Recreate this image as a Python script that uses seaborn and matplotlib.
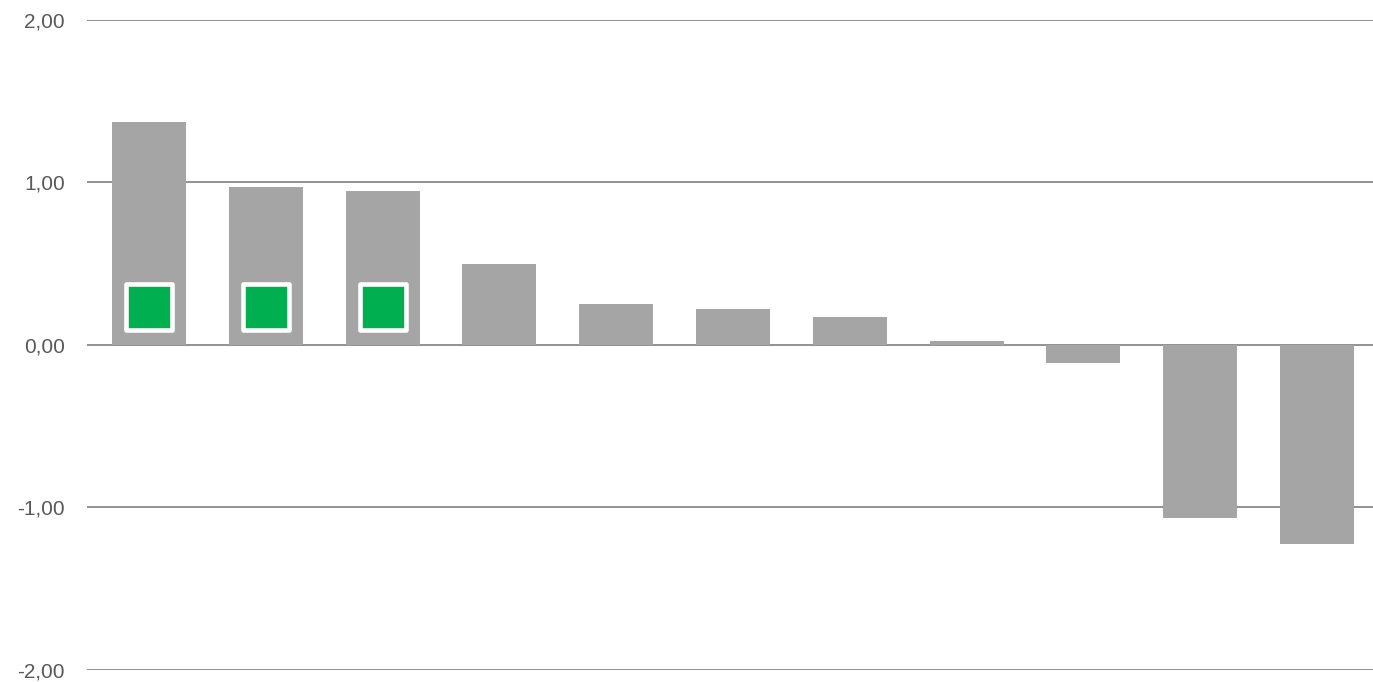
import matplotlib
matplotlib.use("Agg")
import matplotlib.pyplot as plt
import pandas as pd
import seaborn as sns

# bar values (left to right)
positions = list(range(11))
values = [1.37, 0.97, 0.95, 0.50, 0.25, 0.22, 0.17, 0.025, -0.11, -1.065, -1.225]

# green flag markers on the first three bars
marker_positions = [0, 1, 2]
marker_values = [0.235, 0.235, 0.235]

y_ticks = [-2, -1, 0, 1, 2]

sns.set_theme(style="white")
plt.rcParams["font.family"] = ["Liberation Sans", "DejaVu Sans"]

fig = plt.figure(figsize=(13.73, 6.82), dpi=100)
ax = fig.add_axes([0.0634, 0.0176, 0.9366, 0.9531])

for t in y_ticks:
    ax.axhline(t, color="#7f7f7f", linewidth=1.2, zorder=0)

bars_df = pd.DataFrame({"pos": positions, "value": values})
sns.barplot(data=bars_df, x="pos", y="value", color="#A5A5A5", saturation=1,
            width=0.634, linewidth=0, ax=ax, zorder=2, native_scale=True)

markers_df = pd.DataFrame({"pos": marker_positions, "value": marker_values})
sns.scatterplot(data=markers_df, x="pos", y="value", marker="s", s=1075,
                color="#00B050", edgecolor="white", linewidth=3.3, ax=ax, zorder=3)

ax.set_xlim(-0.53, 10.48)
ax.set_ylim(-2, 2)
ax.set_yticks(y_ticks)
ax.set_yticklabels([f"{t:.2f}".replace(".", ",") for t in y_ticks],
                   fontsize=15, color="#595959")
ax.set_xticks([])
ax.set_xlabel("")
ax.set_ylabel("")
ax.tick_params(axis="y", length=0, pad=16)
for spine in ax.spines.values():
    spine.set_visible(False)

fig.savefig("out.png", dpi=100)
